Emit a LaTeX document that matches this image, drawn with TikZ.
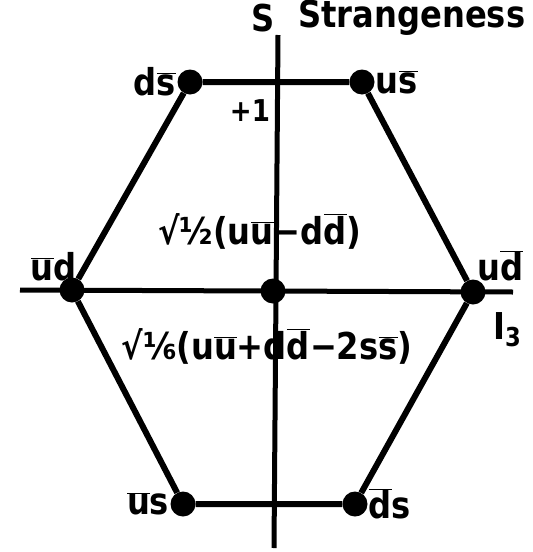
\documentclass[tikz,border=0pt]{standalone}
\usepackage{fontspec}
\setmainfont{DejaVu Sans}[FakeStretch=0.87]
\usetikzlibrary{positioning}
\newcommand{\ob}[1]{\ensuremath{\overline{\hbox{#1}}}}
\tikzset{
  meson/.style={circle, fill=black, inner sep=0pt, minimum size=25pt},
  octet/.style={line width=6pt, line join=round},
  axis/.style={line width=5pt},
  lbl/.style={font=\bfseries\fontsize{37}{42}\selectfont, inner sep=1pt},
}
\begin{document}
\begin{tikzpicture}[x=1pt, y=-1pt]
  \useasboundingbox (0,0) rectangle (533,552);
  % axes
  \coordinate (sTop) at (278,35);
  \coordinate (sBot) at (274,548);
  \coordinate (iLeft) at (20,290);
  \coordinate (iRight) at (513,292);
  \draw[axis] (sTop) -- (sBot);
  \draw[axis] (iLeft) -- (iRight);
  % mesons
  \node[meson] (dsb) at (190,82) {};
  \node[meson] (usb) at (362,82) {};
  \node[meson] (ubd) at (72,290) {};
  \node[meson] (udb) at (473,292) {};
  \node[meson] (ctr) at (273,291) {};
  \node[meson] (ubs) at (183,504) {};
  \node[meson] (dbs) at (355,504) {};
  \draw[octet] (dsb) -- (usb) -- (udb) -- (dbs) -- (ubs) -- (ubd) -- (dsb);
  % labels
  \node[lbl, left=0pt of dsb] {d\ob{s}};
  \node[lbl, right=0pt of usb] {u\ob{s}};
  \node[lbl, anchor=south east] at (78,282) {\ob{u}d};
  \node[lbl, anchor=south west] at (476,282) {u\ob{d}};
  \node[lbl, left=0pt of ubs] {\ob{u}s};
  \node[lbl, right=0pt of dbs] {\ob{d}s};
  \node[lbl, anchor=east] (sname) at (276,18) {S};
  \node[lbl, anchor=west] (sfull) at (297,18) {Strangeness};
  \node[lbl, font=\bfseries\fontsize{30}{34}\selectfont] (plus) at (250,111) {+1};
  \node[lbl] (i3) at (507,330) {I\raisebox{-0.35ex}{\fontsize{26}{30}\selectfont 3}};
  \node[lbl] (pi0) at (260,231) {√½(u\ob{u}−d\ob{d})};
  \node[lbl] (eta) at (267,346) {√⅙(u\ob{u}+d\ob{d}−2s\ob{s})};
\end{tikzpicture}
\end{document}
